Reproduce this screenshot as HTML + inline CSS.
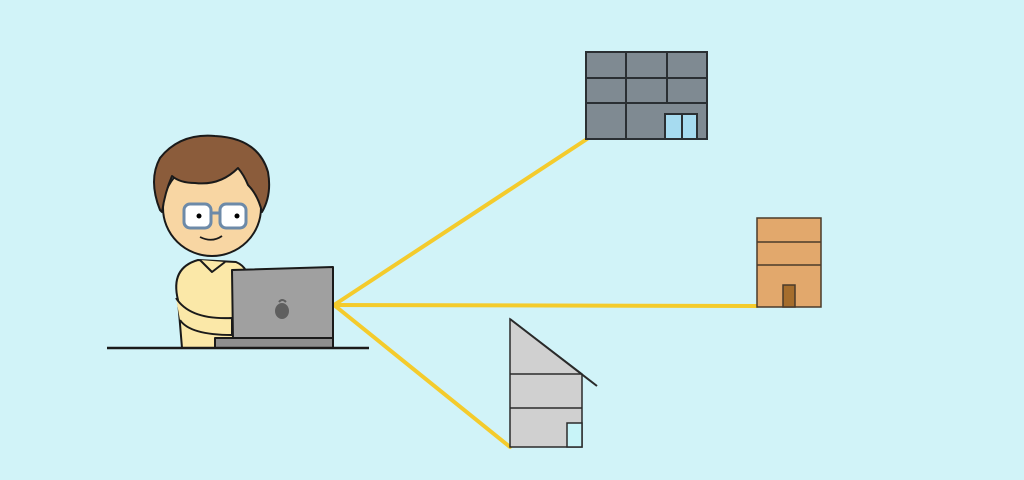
<!DOCTYPE html>
<html><head><meta charset="utf-8"><style>
html,body{margin:0;padding:0;background:#d1f3f8;}
svg{display:block}
</style></head><body>
<svg width="1024" height="480" viewBox="0 0 1024 480" xmlns="http://www.w3.org/2000/svg">
<rect width="1024" height="480" fill="#d1f3f8"/>
<g stroke="#f4cb2c" stroke-width="4" stroke-linecap="round" fill="none">
<line x1="334" y1="305" x2="587" y2="139"/>
<line x1="334" y1="305" x2="757" y2="306"/>
<line x1="334" y1="305" x2="510" y2="447"/>
</g>
<g stroke="#2a2f33" stroke-width="2">
<rect x="586" y="52" width="121" height="87" fill="#7f8a92"/>
<line x1="586" y1="78" x2="707" y2="78"/>
<line x1="586" y1="103" x2="707" y2="103"/>
<line x1="626" y1="52" x2="626" y2="139"/>
<line x1="667" y1="52" x2="667" y2="103"/>
<rect x="665" y="114" width="32" height="25" fill="#a6dbf0"/>
<line x1="682" y1="114" x2="682" y2="139"/>
</g>
<g stroke="#4a3a2a" stroke-width="1.5">
<rect x="757" y="218" width="64" height="89" fill="#e2a86c"/>
<line x1="757" y1="242" x2="821" y2="242"/>
<line x1="757" y1="265" x2="821" y2="265"/>
<rect x="783" y="285" width="12" height="22" fill="#a56d2c"/>
</g>
<g stroke="#2a2a2a" stroke-width="1.5">
<path d="M510 319 L582 374 L582 447 L510 447 Z" fill="#d0d0d0"/>
<line x1="510" y1="319" x2="597" y2="386" stroke-width="2"/>
<line x1="510" y1="374" x2="582" y2="374"/>
<line x1="510" y1="408" x2="582" y2="408"/>
<rect x="567" y="423" width="15" height="24" fill="#c8f4f8"/>
</g>
<g stroke="#1a1a1a" stroke-width="2" stroke-linejoin="round">
<path d="M182 348 L178 300 Q170 268 198 260 L236 262 Q250 268 248 285 L236 348 Z" fill="#fbe8a8"/>
<path d="M200 260 L212 272 L225 262" fill="#fbe8a8"/>
<path d="M176 298 Q190 320 232 318 L232 335 Q190 335 180 320" fill="#fbe8a8"/>
<ellipse cx="212" cy="208" rx="49" ry="48" fill="#f8d6a3"/>
<path d="M160 210 Q148 180 160 158 Q180 133 215 136 Q258 138 268 172 Q272 195 262 212 Q258 195 248 185 Q244 175 238 168 Q220 186 195 183 Q180 183 172 176 Q165 192 162 212 Z" fill="#8b5c3b"/>
<g fill="#ffffff" stroke="#6d8aa8" stroke-width="3">
<rect x="184" y="204" width="27" height="24" rx="6"/>
<rect x="220" y="204" width="26" height="24" rx="6"/>
<line x1="211" y1="213" x2="220" y2="213"/>
</g>
<circle cx="199" cy="216" r="2.5" fill="#000" stroke="none"/>
<circle cx="237" cy="216" r="2.5" fill="#000" stroke="none"/>
<path d="M200 237 Q212 243 222 236" fill="none" stroke-width="1.8"/>
<path d="M232 270 L333 267 L333 340 L233 342 Z" fill="#a0a0a0"/>
<rect x="215" y="338" width="118" height="10" fill="#8f8f8f"/>
<line x1="107" y1="348" x2="369" y2="348" stroke-width="2.5"/>
</g>
<ellipse cx="282" cy="311" rx="7" ry="8" fill="#5f5f5f"/>
<path d="M279 302 Q282 298 286 302" stroke="#5f5f5f" stroke-width="2" fill="none"/>
</svg>
</body></html>
